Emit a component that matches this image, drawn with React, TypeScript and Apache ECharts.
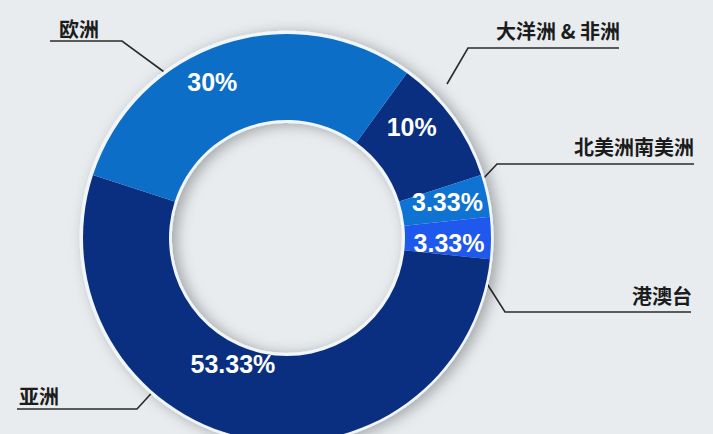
import React, { useEffect, useRef } from "react";
import * as echarts from "echarts";

// ---- data ----
const categories = ["大洋洲 & 非洲", "北美洲南美洲", "港澳台", "亚洲", "欧洲"];
const shares = [10, 3.33, 3.33, 53.33, 30];
const sliceColors = ["#0b2f80", "#0f73d4", "#1f58ec", "#0b2f80", "#0c6ec6"];

// ---- annotation layout: small nudges of the percentage labels ----
const pctNudge = [
  [-8, -15],
  [0, -2],
  [-2, 5],
  [-20, -34],
  [-24, 0],
];

// ---- callout annotation layout (leader lines under the outside labels) ----
const callouts = [
  { anchor: [447, 84], elbow: [468, 48], end: [619, 48], text: [620, 40], align: "right" },
  { anchor: [480, 182], elbow: [497, 164], end: [694, 164], text: [694, 156], align: "right" },
  { anchor: [484, 279], elbow: [505, 312], end: [691, 312], text: [692, 305], align: "right" },
  { anchor: [158, 386], elbow: [137, 409], end: [17, 409], text: [19, 405], align: "left" },
  { anchor: [171, 77], elbow: [122, 41], end: [50, 41], text: [59, 38], align: "left" },
];

export default function App() {
  const ref = useRef<HTMLDivElement>(null);
  useEffect(() => {
    document.body.style.margin = "0";
    const chart = echarts.init(ref.current!, null, { renderer: "svg" });
    const center = [287, 238];
    const startAngle = 54;
    const ringData = categories.map((name, i) => ({
      name,
      value: shares[i],
      itemStyle: { color: sliceColors[i] },
    }));
    chart.setOption({
      animation: false,
      backgroundColor: "#e8ecef",
      series: [
        {
          type: "pie",
          silent: true,
          center,
          radius: [115, 207],
          startAngle,
          data: [
            {
              name: "rim",
              value: 1,
              itemStyle: {
                color: "#f1f6fb",
                shadowBlur: 14,
                shadowColor: "rgba(0,0,0,0.3)",
                shadowOffsetX: 5,
                shadowOffsetY: 2,
              },
            },
          ],
          label: { show: false },
          labelLine: { show: false },
        },
        {
          type: "pie",
          silent: true,
          center,
          radius: [118, 204],
          startAngle,
          data: ringData,
          label: {
            show: true,
            position: "inside",
            formatter: (p: any) => p.value + "%",
            color: "#ffffff",
            fontSize: 25,
            fontWeight: "bold",
            fontFamily: "Liberation Sans, Arial, sans-serif",
          },
          labelLine: { show: false },
          labelLayout: (params: any) => {
            const n = pctNudge[params.dataIndex];
            return { dx: n[0], dy: n[1] };
          },
        },
        {
          type: "pie",
          silent: true,
          center,
          radius: [118, 204],
          startAngle,
          data: categories.map((name, i) => ({ name, value: shares[i] })),
          itemStyle: { color: "rgba(0,0,0,0)" },
          label: {
            show: true,
            position: "outside",
            formatter: "{b}",
            color: "#1c1c1c",
            fontSize: 20,
            fontWeight: "bold",
            fontFamily: "Noto Sans CJK SC, sans-serif",
          },
          labelLine: {
            show: true,
            smooth: false,
            lineStyle: { color: "#2a2a2a", width: 1.6 },
          },
          labelLayout: (params: any) => {
            const c = callouts[params.dataIndex];
            return {
              x: c.text[0],
              y: c.text[1],
              align: c.align,
              verticalAlign: "bottom",
              labelLinePoints: [c.anchor, c.elbow, c.end],
            };
          },
        },
      ],
    });
    return () => chart.dispose();
  }, []);
  return <div ref={ref} style={{ width: 713, height: 434 }} />;
}
